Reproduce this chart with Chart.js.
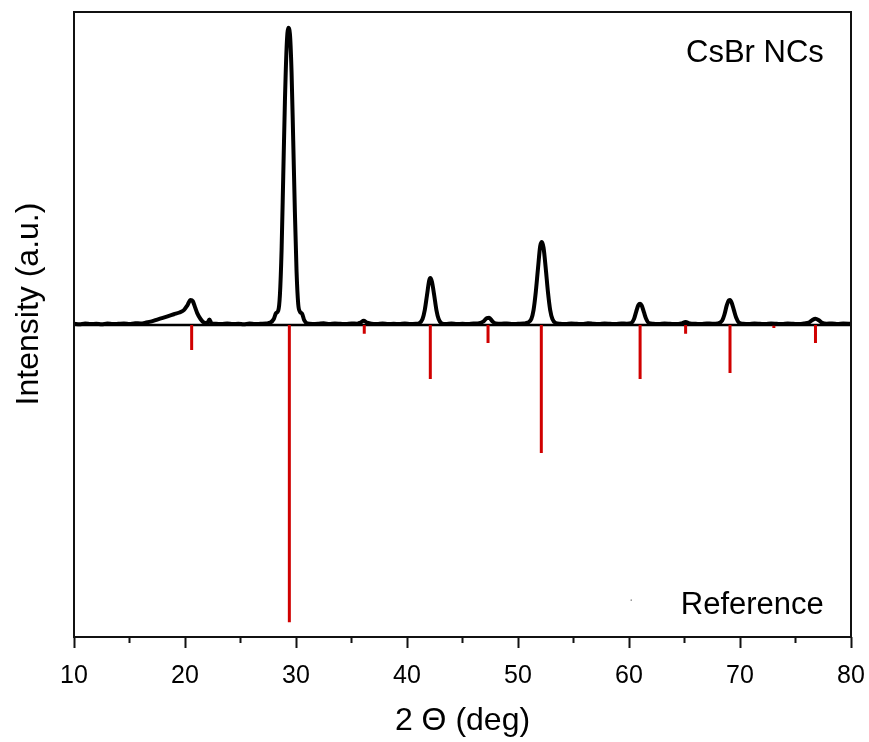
<!DOCTYPE html>
<html>
<head>
<meta charset="utf-8">
<title>CsBr NCs XRD</title>
<script src="https://cdn.jsdelivr.net/npm/chart.js@4.4.1/dist/chart.umd.min.js"></script>
<style>
  html, body { margin: 0; padding: 0; background: #fff; }
  #wrap { width: 869px; height: 742px; }
</style>
</head>
<body>
<div id="wrap"><canvas id="xrdChart" width="869" height="742"></canvas></div>
<script>
// Measured pattern (2 theta in deg, intensity scaled so the 29.4 peak = 100)
const xrdAngle = [
  10.0, 10.5, 11.0, 11.5, 12.0, 12.5, 13.0, 13.5, 14.0, 14.5, 15.0, 15.5, 16.0, 16.5,
  17.0, 17.5, 18.0, 18.5, 19.0, 19.5, 19.9, 20.2, 20.5, 20.7, 20.9, 21.1, 21.4, 21.7,
  22.0, 22.2, 22.4, 22.8, 23.3, 23.8, 24.3, 24.8, 25.3, 25.8, 26.3, 26.8, 27.3, 27.7,
  28.0, 28.2, 28.4, 28.55, 28.7, 28.85, 29.0, 29.15, 29.3, 29.45, 29.6, 29.75, 29.9,
  30.05, 30.2, 30.35, 30.55, 30.75, 31.0, 31.5, 32.0, 32.5, 33.0, 33.5, 34.0, 34.5,
  35.0, 35.5, 35.8, 36.1, 36.4, 36.8, 37.3, 37.8, 38.3, 38.8, 39.3, 39.8, 40.3, 40.8,
  41.1, 41.4, 41.6, 41.8, 42.0, 42.1, 42.25, 42.45, 42.65, 42.85, 43.1, 43.5, 44.0,
  44.5, 45.0, 45.5, 46.0, 46.5, 46.9, 47.2, 47.4, 47.7, 48.0, 48.5, 49.0, 49.5, 50.0,
  50.5, 50.9, 51.2, 51.4, 51.6, 51.8, 52.0, 52.15, 52.3, 52.5, 52.7, 52.9, 53.1, 53.4,
  53.8, 54.3, 54.8, 55.3, 55.8, 56.3, 56.8, 57.3, 57.8, 58.3, 58.8, 59.3, 59.8, 60.2,
  60.45, 60.65, 60.85, 61.0, 61.15, 61.35, 61.55, 61.8, 62.2, 62.7, 63.2, 63.7, 64.2,
  64.7, 65.1, 65.5, 66.0, 66.5, 67.0, 67.5, 68.0, 68.4, 68.6, 68.8, 69.0, 69.1, 69.25,
  69.45, 69.65, 69.9, 70.3, 70.8, 71.3, 71.8, 72.3, 72.8, 73.3, 73.8, 74.3, 74.8, 75.3,
  75.8, 76.2, 76.5, 76.8, 77.1, 77.4, 77.8, 78.3, 78.8, 79.3, 80.0
];
const xrdIntensity = [
  0.4, 0.2, 0.5, 0.3, 0.4, 0.2, 0.5, 0.3, 0.4, 0.5, 0.3, 0.6, 0.5, 0.8,
  1.2, 1.8, 2.4, 3.0, 3.6, 4.2, 5.0, 6.5, 8.4, 8.0, 6.0, 4.0, 2.0, 0.8,
  0.6, 1.8, 0.5, 0.4, 0.3, 0.5, 0.3, 0.4, 0.2, 0.5, 0.3, 0.4, 0.5, 0.8,
  2.0, 4.0, 4.8, 10, 25, 50, 75, 93, 100, 98, 85, 62, 38,
  18, 7, 4.5, 3.8, 1.5, 0.5, 0.3, 0.4, 0.6, 0.3, 0.5, 0.4, 0.3,
  0.5, 0.4, 0.8, 1.4, 0.8, 0.4, 0.3, 0.5, 0.3, 0.4, 0.3, 0.5, 0.3, 0.4,
  0.6, 2.0, 5.0, 10, 15, 15.8, 14.5, 10, 5.0, 2.0, 0.6, 0.3, 0.5,
  0.3, 0.4, 0.3, 0.5, 0.6, 1.2, 2.3, 2.4, 1.2, 0.5, 0.4, 0.5, 0.3, 0.4,
  0.5, 0.8, 2.0, 5.0, 11, 19, 26.5, 27.9, 26, 19, 11, 5.0, 2.0, 0.6,
  0.4, 0.3, 0.5, 0.4, 0.3, 0.6, 0.4, 0.3, 0.5, 0.4, 0.3, 0.5, 0.4, 0.6,
  2.0, 4.5, 6.7, 7.1, 6.5, 4.2, 2.0, 0.6, 0.4, 0.3, 0.5, 0.4, 0.3,
  0.5, 1.0, 0.5, 0.4, 0.3, 0.5, 0.4, 0.5, 1.5, 3.5, 6.5, 8.3, 8.4, 7.5,
  5.0, 2.5, 0.8, 0.4, 0.3, 0.5, 0.4, 0.3, 0.5, 0.4, 0.3, 0.5, 0.4, 0.3,
  0.5, 0.8, 1.6, 2.1, 1.6, 0.7, 0.4, 0.5, 0.3, 0.5, 0.4
];

// Reference card sticks (drawn downward)
const refAngle = [20.6, 29.4, 36.15, 42.1, 47.3, 52.1, 61.0, 65.1, 69.1, 73.05, 76.8];
const refIntensity = [8.4, 100, 3.0, 18.2, 6.1, 43.1, 18.2, 3.0, 16.2, 1.0, 6.1];

const xTicksMajor = [10, 20, 30, 40, 50, 60, 70, 80];
const xTicksMinor = [15, 25, 35, 45, 55, 65, 75];

const FONT = "'Liberation Sans', Arial, Helvetica, sans-serif";

const xrdPoints = xrdAngle.map((a, i) => ({ x: a, y: xrdIntensity[i] }));
const refPoints = [];
refAngle.forEach((a, i) => {
    refPoints.push({ x: a, y: 0 });
    refPoints.push({ x: a, y: -refIntensity[i] });
    refPoints.push({ x: a, y: null });
});

// frame, minor ticks and text labels
const framePlugin = {
    id: 'framePlugin',
    beforeDatasetsDraw(chart) {
        const { ctx, chartArea: a, scales: { y } } = chart;
        // zero line
        const y0 = y.getPixelForValue(0);
        ctx.save();
        ctx.strokeStyle = '#000';
        ctx.lineWidth = 2.5;
        ctx.beginPath();
        ctx.moveTo(a.left, y0);
        ctx.lineTo(a.right, y0);
        ctx.stroke();
        ctx.restore();
    },
    afterDraw(chart) {
        const { ctx, chartArea: a, scales: { x, y } } = chart;
        ctx.save();
        ctx.strokeStyle = '#111';
        ctx.lineWidth = 2;
        ctx.strokeRect(a.left, a.top, a.right - a.left, a.bottom - a.top);

        // minor ticks
        ctx.beginPath();
        xTicksMinor.forEach(v => {
            const px = x.getPixelForValue(v);
            ctx.moveTo(px, a.bottom);
            ctx.lineTo(px, a.bottom + 6);
        });
        ctx.stroke();

        ctx.fillStyle = '#000';
        ctx.font = '31px ' + FONT;
        ctx.textAlign = 'right';
        ctx.textBaseline = 'alphabetic';
        ctx.fillText('CsBr NCs', x.getPixelForValue(77.55), 62);
        ctx.fillText('Reference', x.getPixelForValue(77.55), 614);

        // y title
        ctx.translate(29, 304);
        ctx.rotate(-Math.PI / 2);
        ctx.textAlign = 'center';
        ctx.textBaseline = 'middle';
        ctx.font = '32px ' + FONT;
        ctx.fillText('Intensity (a.u.)', 0, 0);
        ctx.restore();
    }
};

new Chart(document.getElementById('xrdChart'), {
    type: 'line',
    data: {
        datasets: [
            {
                label: 'CsBr NCs',
                data: xrdPoints,
                borderColor: '#000',
                borderWidth: 4,
                pointRadius: 0,
                cubicInterpolationMode: 'monotone',
                fill: false
            },
            {
                label: 'Reference',
                data: refPoints,
                borderColor: '#d00000',
                borderWidth: 3,
                borderCapStyle: 'butt',
                pointRadius: 0,
                spanGaps: false,
                tension: 0
            },
            {
                label: 'marker',
                data: [{ x: 60.2, y: -92.6 }],
                showLine: false,
                pointRadius: 0.8,
                pointBackgroundColor: '#888',
                pointBorderWidth: 0
            }
        ]
    },
    options: {
        responsive: false,
        animation: false,
        events: [],
        layout: { padding: { top: 12, right: 18, left: 0, bottom: 0 } },
        plugins: {
            legend: { display: false },
            tooltip: { enabled: false }
        },
        scales: {
            x: {
                type: 'linear',
                min: 10,
                max: 80,
                afterFit: (s) => {
                    s.height = 105;
                    s.paddingLeft = 0;
                    s.paddingRight = 0;
                },
                border: { display: false },
                grid: {
                    drawOnChartArea: false,
                    drawTicks: true,
                    tickLength: 11,
                    tickWidth: 2,
                    tickColor: (c) => (c.tick && c.tick.value % 10 === 0) ? '#111' : 'rgba(0,0,0,0)'
                },
                ticks: {
                    stepSize: 5,
                    autoSkip: false,
                    maxRotation: 0,
                    padding: 13,
                    color: '#000',
                    font: { family: FONT, size: 25 },
                    callback: (v) => xTicksMajor.includes(v) ? String(v) : ''
                },
                title: {
                    display: true,
                    text: '2 \u0398 (deg)',
                    color: '#000',
                    font: { family: FONT, size: 32 },
                    padding: { top: 0, bottom: 2 }
                }
            },
            y: {
                min: -105,
                max: 105.3,
                afterFit: (s) => { s.width = 74; },
                border: { display: false },
                grid: { display: false },
                ticks: { display: false }
            }
        }
    },
    plugins: [framePlugin]
});
</script>
</body>
</html>
